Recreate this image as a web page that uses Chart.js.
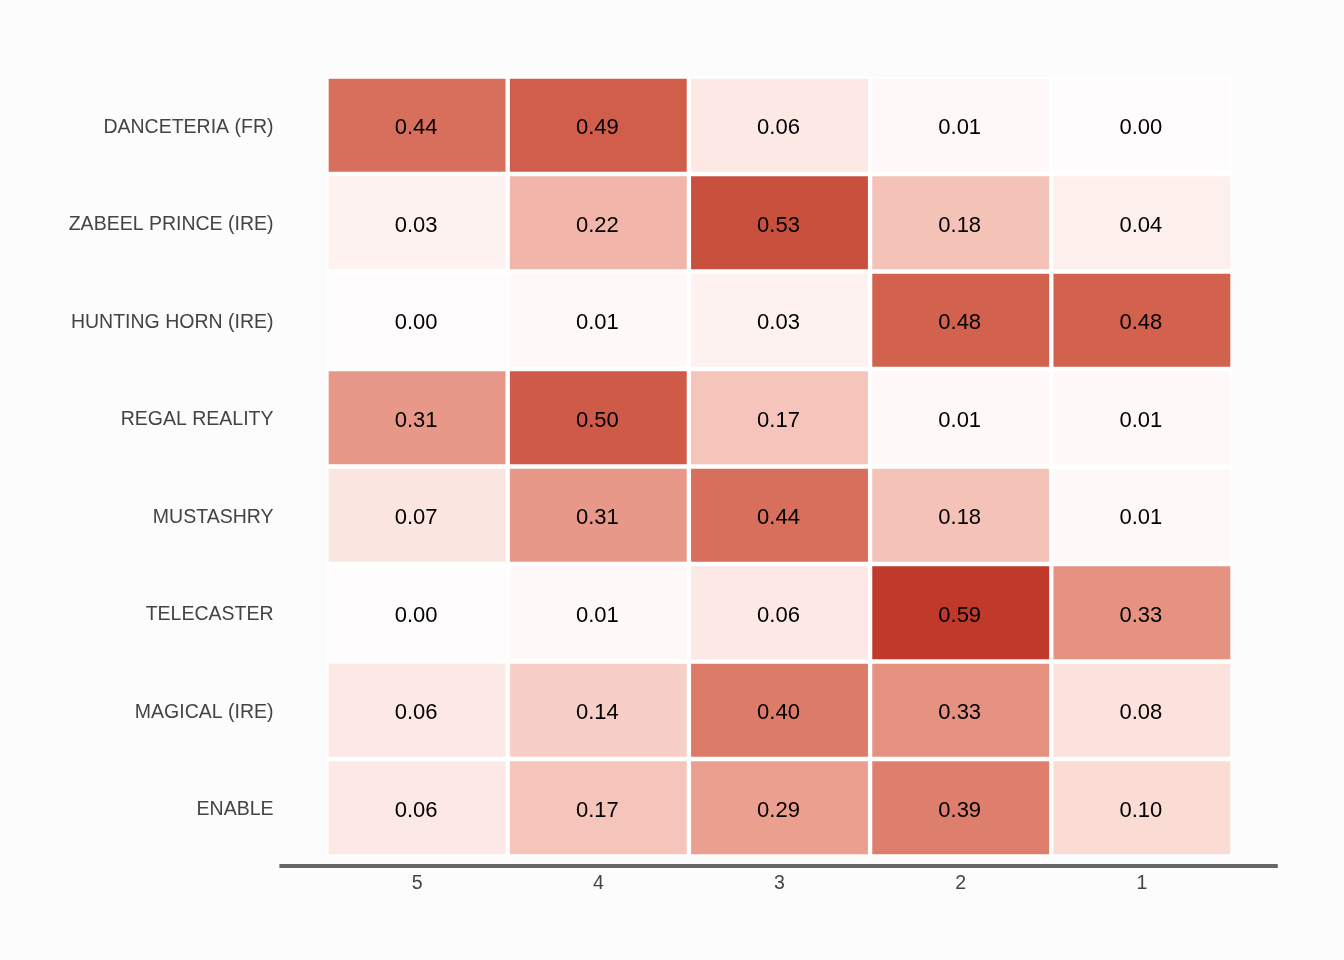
<!DOCTYPE html>
<html>
<head>
<meta charset="utf-8">
<script src="https://cdn.jsdelivr.net/npm/chart.js@4/dist/chart.umd.min.js"></script>
<style>
  html, body { margin: 0; padding: 0; background: #fcfcfc; }
  #wrap { width: 1344px; height: 960px; }
</style>
</head>
<body>
<div id="wrap"><canvas id="heat"></canvas></div>
<script>
// Horses (rows, top to bottom)
const horses = [
  'DANCETERIA (FR)',
  'ZABEEL PRINCE (IRE)',
  'HUNTING HORN (IRE)',
  'REGAL REALITY',
  'MUSTASHRY',
  'TELECASTER',
  'MAGICAL (IRE)',
  'ENABLE'
];

// Finishing positions (columns, left to right)
const positions = ['5', '4', '3', '2', '1'];

// Probabilities, one array per position, in horse order
const pos5 = [0.44, 0.03, 0.00, 0.31, 0.07, 0.00, 0.06, 0.06];
const pos4 = [0.49, 0.22, 0.01, 0.50, 0.31, 0.01, 0.14, 0.17];
const pos3 = [0.06, 0.53, 0.03, 0.17, 0.44, 0.06, 0.40, 0.29];
const pos2 = [0.01, 0.18, 0.48, 0.01, 0.18, 0.59, 0.33, 0.39];
const pos1 = [0.00, 0.04, 0.48, 0.01, 0.01, 0.33, 0.08, 0.10];

const columns = [pos5, pos4, pos3, pos2, pos1];

// colour scale: white -> red, interpolated in Lab
const LOW = '#fefcfc';
const HIGH = '#c0392b';
const maxVal = Math.max(...columns.flat());

function hexToLab(hex) {
  const v = [1, 3, 5].map(i => parseInt(hex.substr(i, 2), 16) / 255)
    .map(c => c <= 0.04045 ? c / 12.92 : Math.pow((c + 0.055) / 1.055, 2.4));
  const x = (0.4124 * v[0] + 0.3576 * v[1] + 0.1805 * v[2]) / 0.95047;
  const y = (0.2126 * v[0] + 0.7152 * v[1] + 0.0722 * v[2]);
  const z = (0.0193 * v[0] + 0.1192 * v[1] + 0.9505 * v[2]) / 1.08883;
  const f = t => t > 0.008856 ? Math.cbrt(t) : 7.787 * t + 16 / 116;
  return [116 * f(y) - 16, 500 * (f(x) - f(y)), 200 * (f(y) - f(z))];
}

function labToRgb(lab) {
  const fy = (lab[0] + 16) / 116;
  const fx = fy + lab[1] / 500;
  const fz = fy - lab[2] / 200;
  const inv = t => t * t * t > 0.008856 ? t * t * t : (t - 16 / 116) / 7.787;
  const x = inv(fx) * 0.95047, y = inv(fy), z = inv(fz) * 1.08883;
  const lin = [
    3.2406 * x - 1.5372 * y - 0.4986 * z,
    -0.9689 * x + 1.8758 * y + 0.0415 * z,
    0.0557 * x - 0.2040 * y + 1.0570 * z
  ];
  const rgb = lin.map(c => c <= 0.0031308 ? 12.92 * c : 1.055 * Math.pow(c, 1 / 2.4) - 0.055)
    .map(c => Math.round(Math.min(1, Math.max(0, c)) * 255));
  return `rgb(${rgb[0]}, ${rgb[1]}, ${rgb[2]})`;
}

const labLow = hexToLab(LOW);
const labHigh = hexToLab(HIGH);

function colourFor(value) {
  const t = value / maxVal;
  return labToRgb(labLow.map((l, i) => l + (labHigh[i] - l) * t));
}

// each position is one stacked segment of width 1
const datasets = positions.map((p, i) => ({
  label: p,
  data: horses.map(() => 1),
  values: columns[i],
  backgroundColor: columns[i].map(colourFor),
  borderColor: '#ffffff',
  borderWidth: 2.5,
  borderSkipped: false,
  barPercentage: 1,
  categoryPercentage: 1
}));

// writes the probability in the middle of each cell
const cellText = {
  id: 'cellText',
  afterDatasetsDraw(chart) {
    const ctx = chart.ctx;
    ctx.save();
    ctx.font = '22px "Liberation Sans", Arial, sans-serif';
    ctx.fillStyle = '#000000';
    ctx.textAlign = 'center';
    ctx.textBaseline = 'middle';
    chart.data.datasets.forEach((ds, i) => {
      chart.getDatasetMeta(i).data.forEach((bar, j) => {
        const c = bar.getCenterPoint();
        ctx.fillText(ds.values[j].toFixed(2), c.x - 1, c.y + 3);
      });
    });
    ctx.restore();
  }
};

// grey axis line under the panel
const axisLine = {
  id: 'axisLine',
  afterDraw(chart) {
    const x = chart.scales.x;
    const y = chart.chartArea.bottom + 9.5;
    const ctx = chart.ctx;
    ctx.save();
    ctx.strokeStyle = '#666666';
    ctx.lineWidth = 4;
    ctx.beginPath();
    ctx.moveTo(x.getPixelForValue(-0.26), y);
    ctx.lineTo(x.getPixelForValue(5.25), y);
    ctx.stroke();
    ctx.restore();
  }
};

new Chart(document.getElementById('heat'), {
  type: 'bar',
  data: { labels: horses, datasets: datasets },
  plugins: [cellText, axisLine],
  options: {
    indexAxis: 'y',
    responsive: true,
    maintainAspectRatio: false,
    animation: false,
    layout: { padding: { top: 76.5, right: 111.5, bottom: 0, left: 0 } },
    plugins: {
      legend: { display: false },
      tooltip: { enabled: false }
    },
    scales: {
      x: {
        type: 'linear',
        stacked: true,
        min: 0,
        max: 5,
        grid: { display: false },
        border: { display: false },
        afterBuildTicks: scale => {
          scale.ticks = positions.map((p, i) => ({ value: i + 0.5 }));
        },
        afterFit: scale => { scale.height = 103.5; },
        ticks: {
          padding: 7,
          color: '#444444',
          font: { family: '"Liberation Sans", Arial, sans-serif', size: 19.5 },
          callback: (v, i) => positions[i]
        }
      },
      y: {
        stacked: true,
        grid: { display: false },
        border: { display: false },
        afterFit: scale => { scale.width = 326.5; },
        ticks: {
          padding: 45,
          labelOffset: 2,
          color: '#444444',
          font: { family: '"Liberation Sans", Arial, sans-serif', size: 19.5 }
        }
      }
    }
  }
});
</script>
</body>
</html>
